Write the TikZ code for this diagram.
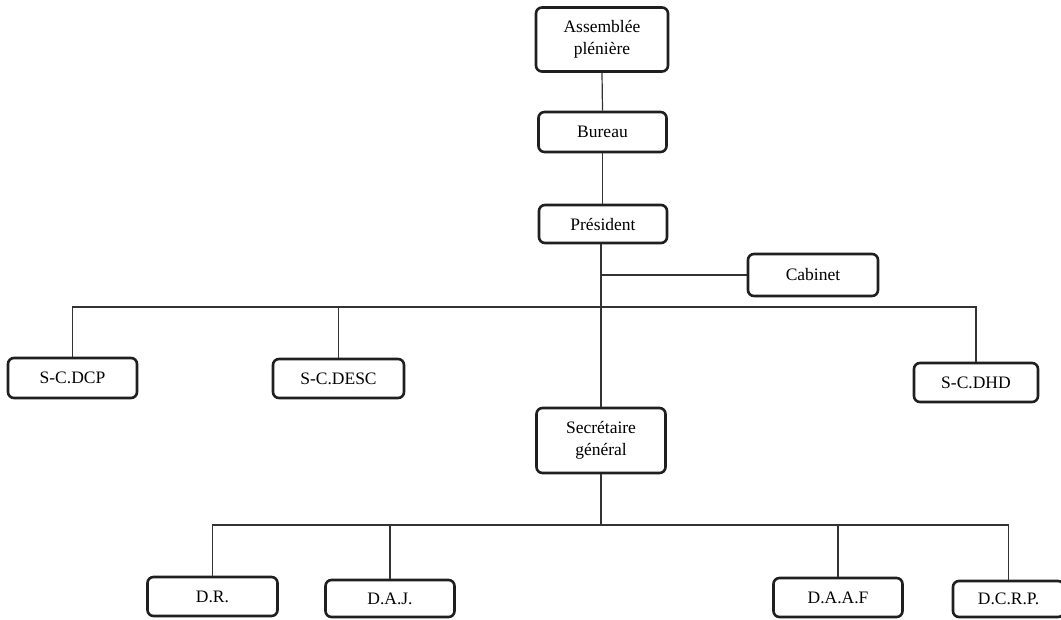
\documentclass[tikz,border=0pt]{standalone}
\usepackage{fontspec}
\setmainfont{Liberation Serif}
\begin{document}
\begin{tikzpicture}[x=1pt,y=-1pt,
  box/.style={draw=black!88,line width=2.6pt,rounded corners=6pt,inner sep=0pt,align=center,
    font=\fontsize{17.5}{22}\selectfont},
  conn/.style={draw=black!80,line width=1.2pt}]
\useasboundingbox (0,0) rectangle (1061,619);
\node[box,minimum width=132pt,minimum height=64pt] (ap) at (602,39.5) {Assemblée\\plénière};
\node[box,minimum width=128pt,minimum height=40pt] (bur) at (602.5,132) {Bureau};
\node[box,minimum width=128pt,minimum height=38pt] (pres) at (603,224) {Président};
\node[box,minimum width=130pt,minimum height=42pt] (cab) at (813,275) {Cabinet};
\node[box,minimum width=129pt,minimum height=40pt] (scdcp) at (72.5,378) {S-C.DCP};
\node[box,minimum width=131pt,minimum height=39pt] (scdesc) at (338.5,378.5) {S-C.DESC};
\node[box,minimum width=124pt,minimum height=39pt] (scdhd) at (976,382.5) {S-C.DHD};
\node[box,minimum width=129pt,minimum height=65pt] (sg) at (601,440.5) {Secrétaire\\général};
\node[box,minimum width=130pt,minimum height=39pt] (dr) at (212.5,596.5) {D.R.};
\node[box,minimum width=129pt,minimum height=37pt] (daj) at (390,598.5) {D.A.J.};
\node[box,minimum width=129pt,minimum height=39pt] (daaf) at (838,597.5) {D.A.A.F};
\node[box,minimum width=111pt,minimum height=36pt] (dcrp) at (1008.5,599) {D.C.R.P.};
\coordinate (busA) at (0,307);
\coordinate (busB) at (0,525);
\draw[conn] (ap.south) -- (bur.north);
\draw[conn] (bur.south) -- (bur.south |- pres.north);
\draw[conn] (sg.north |- pres.south) -- (sg.north);
\draw[conn] (sg.north |- cab.west) -- (cab.west);
\draw[conn] (scdcp.north) -- (scdcp.north |- busA) -- (scdhd.north |- busA) -- (scdhd.north);
\draw[conn] (scdesc.north) -- (scdesc.north |- busA);
\draw[conn] (sg.south) -- (sg.south |- busB);
\draw[conn] (dr.north) -- (dr.north |- busB) -- (dcrp.north |- busB) -- (dcrp.north);
\draw[conn] (daj.north) -- (daj.north |- busB);
\draw[conn] (daaf.north) -- (daaf.north |- busB);
\end{tikzpicture}
\end{document}
